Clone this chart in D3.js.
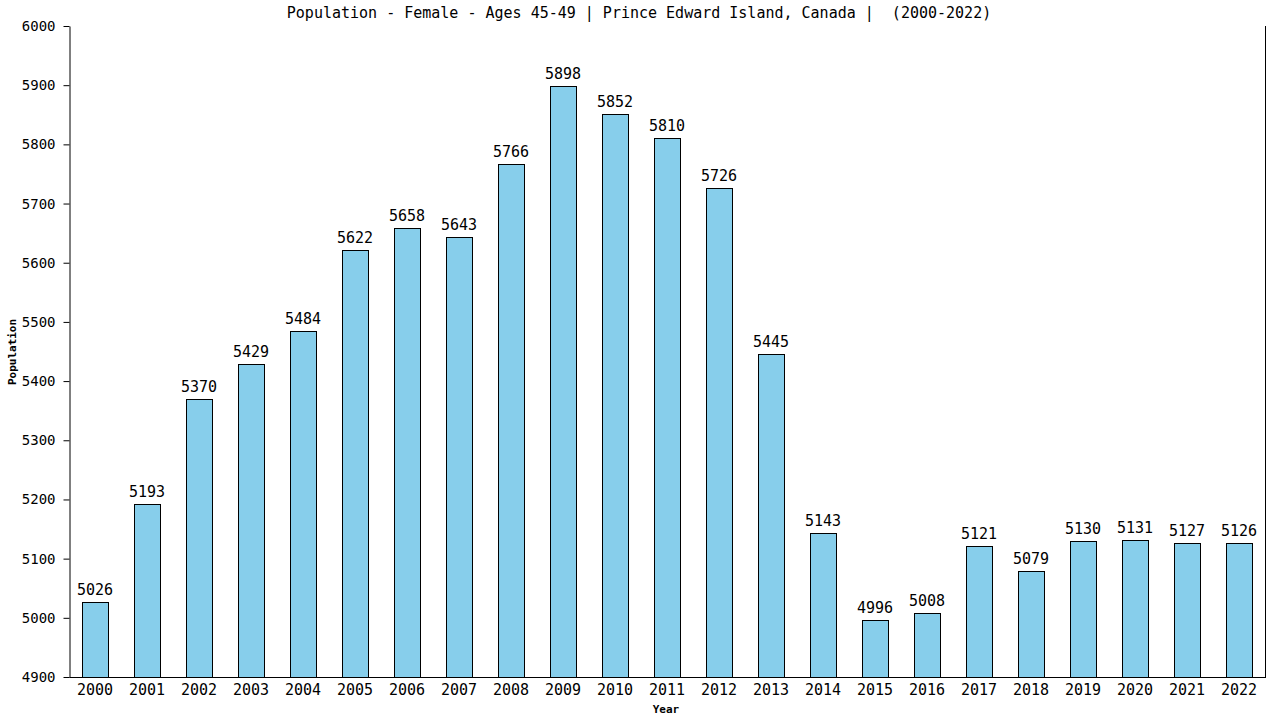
<!DOCTYPE html>
<html><head><meta charset="utf-8">
<script src="https://cdn.jsdelivr.net/npm/d3@7"></script>
<style>body{margin:0;background:#fff}svg{display:block}</style>
</head><body><svg id="c" width="1280" height="720"></svg>
<script>
const years = ["2000","2001","2002","2003","2004","2005","2006","2007","2008","2009","2010","2011","2012","2013","2014","2015","2016","2017","2018","2019","2020","2021","2022"];
const values = [5026,5193,5370,5429,5484,5622,5658,5643,5766,5898,5852,5810,5726,5445,5143,4996,5008,5121,5079,5130,5131,5127,5126];
const yTicks = [4900,5000,5100,5200,5300,5400,5500,5600,5700,5800,5900,6000];
const title = "Population - Female - Ages 45-49 | Prince Edward Island, Canada |  (2000-2022)";

const svg = d3.select("#c");
const L = 70, R = 1266, T = 26, B = 677;
const font = "'DejaVu Sans Mono', monospace";
const x = d3.scaleBand().domain(years).range([L, R]).paddingInner(0.5).paddingOuter(0.25);
const y = d3.scaleLinear().domain([4900, 6000]).range([B, T]);

svg.selectAll("rect.bar").data(values).enter().append("rect")
  .attr("class","bar")
  .attr("x",(d,i)=>Math.round(x(years[i]))-0.5)
  .attr("y",d=>Math.round(y(d))+0.5)
  .attr("width",Math.round(x.bandwidth()))
  .attr("height",d=>B-Math.round(y(d)))
  .attr("fill","#87ceeb").attr("stroke","#000").attr("stroke-width",1);

svg.selectAll("text.val").data(values).enter().append("text")
  .attr("class","val")
  .attr("x",(d,i)=>x(years[i])+x.bandwidth()/2-1)
  .attr("y",d=>y(d)-7)
  .attr("text-anchor","middle").attr("font-family",font).attr("font-size",15)
  .text(d=>d);

const ya = svg.append("g").attr("transform",`translate(${L-0.5},0)`)
  .call(d3.axisLeft(y).tickValues(yTicks).tickSize(6).tickSizeOuter(0).tickFormat(d3.format("d")));
ya.selectAll("text").attr("font-family",font).attr("font-size",14).attr("fill","#000").attr("x",-14);
ya.selectAll("line,path").attr("stroke","#000");

const xa = svg.append("g").attr("transform",`translate(-1,${B+0.5})`)
  .call(d3.axisBottom(x).tickSize(0).tickSizeOuter(0));
xa.selectAll("text").attr("font-family",font).attr("font-size",15).attr("fill","#000").attr("dy","0.71em").attr("y",7);
xa.select("path").attr("stroke","#000").attr("d",`M${L+0.5},0H${R+1}`);

svg.append("line").attr("x1",R-0.5).attr("x2",R-0.5).attr("y1",T).attr("y2",B).attr("stroke","#000");

svg.append("text").attr("x",639).attr("y",18).attr("text-anchor","middle")
  .attr("font-family",font).attr("font-size",15).style("white-space","pre").text(title);
svg.append("text").attr("x",666).attr("y",713).attr("text-anchor","middle")
  .attr("font-family",font).attr("font-size",11).attr("font-weight","bold").text("Year");
svg.append("text").attr("transform","translate(16,352) rotate(-90)").attr("text-anchor","middle")
  .attr("font-family",font).attr("font-size",11).attr("font-weight","bold").text("Population");
</script></body></html>
